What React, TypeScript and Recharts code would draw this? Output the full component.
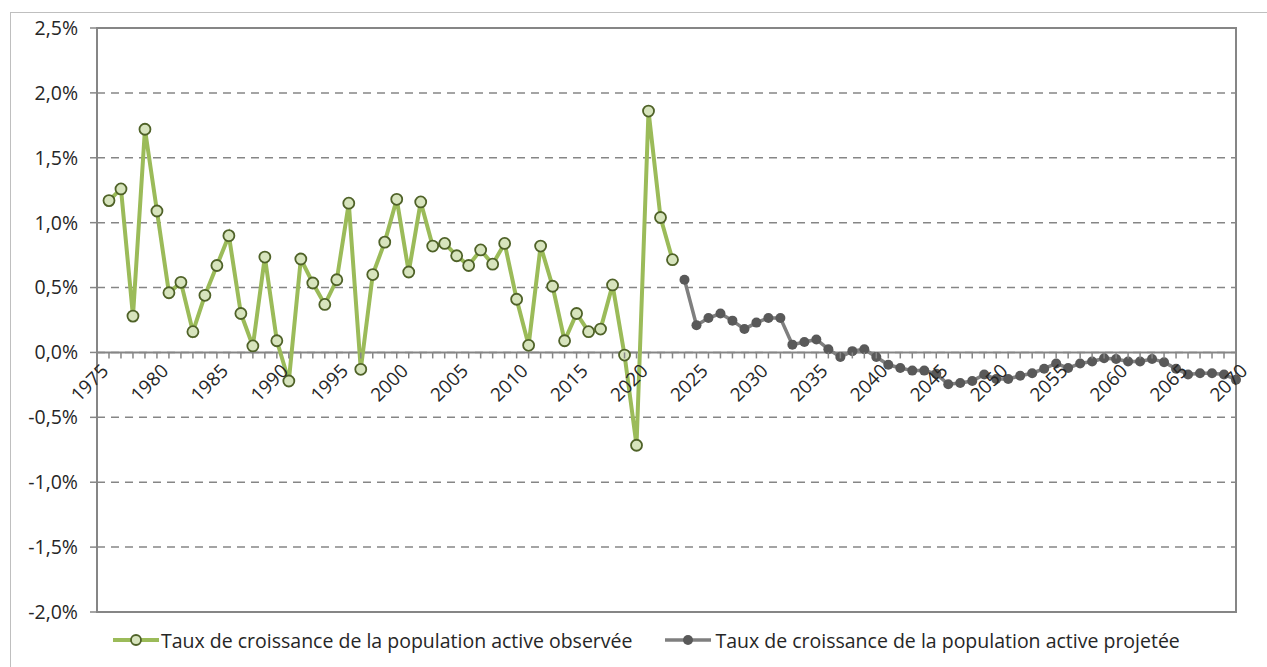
import React from "react";
import { LineChart, Line, XAxis, YAxis, CartesianGrid, ReferenceLine, ReferenceArea, Legend } from "recharts";

const years: number[] = Array.from({ length: 96 }, (_, i) => 1975 + i);

const observedYears = [1976, 1977, 1978, 1979, 1980, 1981, 1982, 1983, 1984, 1985, 1986, 1987, 1988, 1989, 1990, 1991, 1992, 1993, 1994, 1995, 1996, 1997, 1998, 1999, 2000, 2001, 2002, 2003, 2004, 2005, 2006, 2007, 2008, 2009, 2010, 2011, 2012, 2013, 2014, 2015, 2016, 2017, 2018, 2019, 2020, 2021, 2022, 2023];
const observedValues = [1.17, 1.26, 0.28, 1.72, 1.09, 0.46, 0.54, 0.16, 0.44, 0.67, 0.9, 0.3, 0.05, 0.735, 0.09, -0.22, 0.72, 0.535, 0.37, 0.56, 1.15, -0.13, 0.6, 0.85, 1.18, 0.62, 1.16, 0.82, 0.84, 0.745, 0.67, 0.79, 0.68, 0.84, 0.41, 0.055, 0.82, 0.51, 0.09, 0.3, 0.16, 0.18, 0.52, -0.02, -0.715, 1.86, 1.04, 0.715];

const projectedYears = Array.from({ length: 47 }, (_, i) => 2024 + i);
const projectedValues = [0.56, 0.21, 0.265, 0.3, 0.245, 0.18, 0.23, 0.265, 0.265, 0.06, 0.08, 0.1, 0.025, -0.035, 0.01, 0.025, -0.035, -0.095, -0.12, -0.14, -0.14, -0.165, -0.245, -0.235, -0.22, -0.17, -0.205, -0.205, -0.18, -0.16, -0.125, -0.085, -0.12, -0.085, -0.07, -0.045, -0.05, -0.07, -0.07, -0.05, -0.075, -0.125, -0.17, -0.16, -0.16, -0.17, -0.21];

const yTicks = [-2, -1.5, -1, -0.5, 0, 0.5, 1, 1.5, 2, 2.5];
const labelYears = [1975, 1980, 1985, 1990, 1995, 2000, 2005, 2010, 2015, 2020, 2025, 2030, 2035, 2040, 2045, 2050, 2055, 2060, 2065, 2070];

const seriesNames = [
  "Taux de croissance de la population active observée",
  "Taux de croissance de la population active projetée",
];

const data = years.map((year) => {
  const oi = observedYears.indexOf(year);
  const pi = projectedYears.indexOf(year);
  return {
    year,
    obs: oi >= 0 ? observedValues[oi] : null,
    proj: pi >= 0 ? projectedValues[pi] : null,
  };
});

const W = 1267;
const H = 667;
const MARGIN = { top: 28, right: 31, left: 0, bottom: 12 };
const Y_AXIS_W = 97;
const X_AXIS_H = 13;
const LEGEND_H = 30;
const Y_MIN = -2;
const Y_MAX = 2.5;
const PLOT_H = H - MARGIN.top - MARGIN.bottom - X_AXIS_H - LEGEND_H;
const ZERO_Y = MARGIN.top + ((Y_MAX - 0) / (Y_MAX - Y_MIN)) * PLOT_H;

const GREEN = "#9BBB59";
const GREEN_FILL = "#D7E4BD";
const GREEN_DARK = "#4F6228";
const GRAY_LINE = "#7F7F7F";
const GRAY_DOT = "#595959";
const AXIS = "#868686";
const TEXT = "#262626";
const FONT = "'Open Sans', sans-serif";

const fmt = (v: number) => v.toFixed(1).replace(".", ",") + "%";

const XTick = (props: any) => {
  const { x, payload } = props;
  const yr = payload.value as number;
  const ty = ZERO_Y + 10;
  const tx = x + 3;
  return (
    <g>
      <line x1={x} x2={x} y1={ZERO_Y} y2={ZERO_Y + 6} stroke={AXIS} strokeWidth={1.5} />
      {labelYears.includes(yr) && (
        <text
          x={tx}
          y={ty}
          dy="0.72em"
          textAnchor="end"
          transform={`rotate(-45, ${tx}, ${ty})`}
          fill={TEXT}
          fontSize={19}
          fontFamily={FONT}
        >
          {yr}
        </text>
      )}
    </g>
  );
};

const LegendContent = () => (
  <div style={{ display: "flex", alignItems: "center", height: LEGEND_H, paddingLeft: 113, fontFamily: FONT, fontSize: 19.5, color: TEXT, whiteSpace: "nowrap" }}>
    <svg width={46} height={14} style={{ marginRight: 2 }}>
      <line x1={0} x2={46} y1={7} y2={7} stroke={GREEN} strokeWidth={4} />
      <circle cx={23} cy={7} r={5} fill={GREEN_FILL} stroke={GREEN_DARK} strokeWidth={1.8} />
    </svg>
    <span>{seriesNames[0]}</span>
    <svg width={46} height={14} style={{ marginLeft: 33, marginRight: 4 }}>
      <line x1={0} x2={46} y1={7} y2={7} stroke={GRAY_LINE} strokeWidth={3.5} />
      <circle cx={23} cy={7} r={5} fill={GRAY_DOT} />
    </svg>
    <span>{seriesNames[1]}</span>
  </div>
);

export default function App() {
  return (
    <div style={{ position: "absolute", left: 0, top: 0, width: W, height: H, background: "#fff", overflow: "hidden" }}>
      <div style={{ position: "absolute", left: 10, top: 12, width: W, height: H, borderLeft: "1px solid #BFBFBF", borderTop: "1.5px solid #BFBFBF" }} />
      <LineChart width={W} height={H} data={data} margin={MARGIN}>
        <CartesianGrid vertical={false} stroke={AXIS} strokeWidth={1.5} strokeDasharray="8 6" />
        <XAxis
          dataKey="year"
          type="number"
          domain={[1975, 2070]}
          ticks={years}
          interval={0}
          height={X_AXIS_H}
          axisLine={false}
          tickLine={false}
          tick={<XTick />}
        />
        <YAxis
          domain={[Y_MIN, Y_MAX]}
          ticks={yTicks}
          width={Y_AXIS_W}
          tickFormatter={fmt}
          axisLine={{ stroke: AXIS, strokeWidth: 2 }}
          tickLine={{ stroke: AXIS, strokeWidth: 1.5 }}
          tickSize={7}
          tickMargin={12}
          tick={{ fill: TEXT, fontSize: 19.5, fontFamily: FONT }}
        />
        <ReferenceArea x1={1975} x2={2070} y1={Y_MIN} y2={Y_MAX} fill="none" fillOpacity={0} stroke={AXIS} strokeWidth={2} />
        <ReferenceLine y={0} stroke={AXIS} strokeWidth={2} />
        <Legend verticalAlign="bottom" height={LEGEND_H} content={<LegendContent />} />
        <Line
          dataKey="obs"
          stroke={GREEN}
          strokeWidth={4}
          dot={{ r: 5.5, fill: GREEN_FILL, stroke: GREEN_DARK, strokeWidth: 1.8 }}
          isAnimationActive={false}
          connectNulls={false}
        />
        <Line
          dataKey="proj"
          stroke={GRAY_LINE}
          strokeWidth={3.5}
          dot={{ r: 5, fill: GRAY_DOT, stroke: GRAY_DOT, strokeWidth: 0 }}
          isAnimationActive={false}
          connectNulls={false}
        />
      </LineChart>
    </div>
  );
}
